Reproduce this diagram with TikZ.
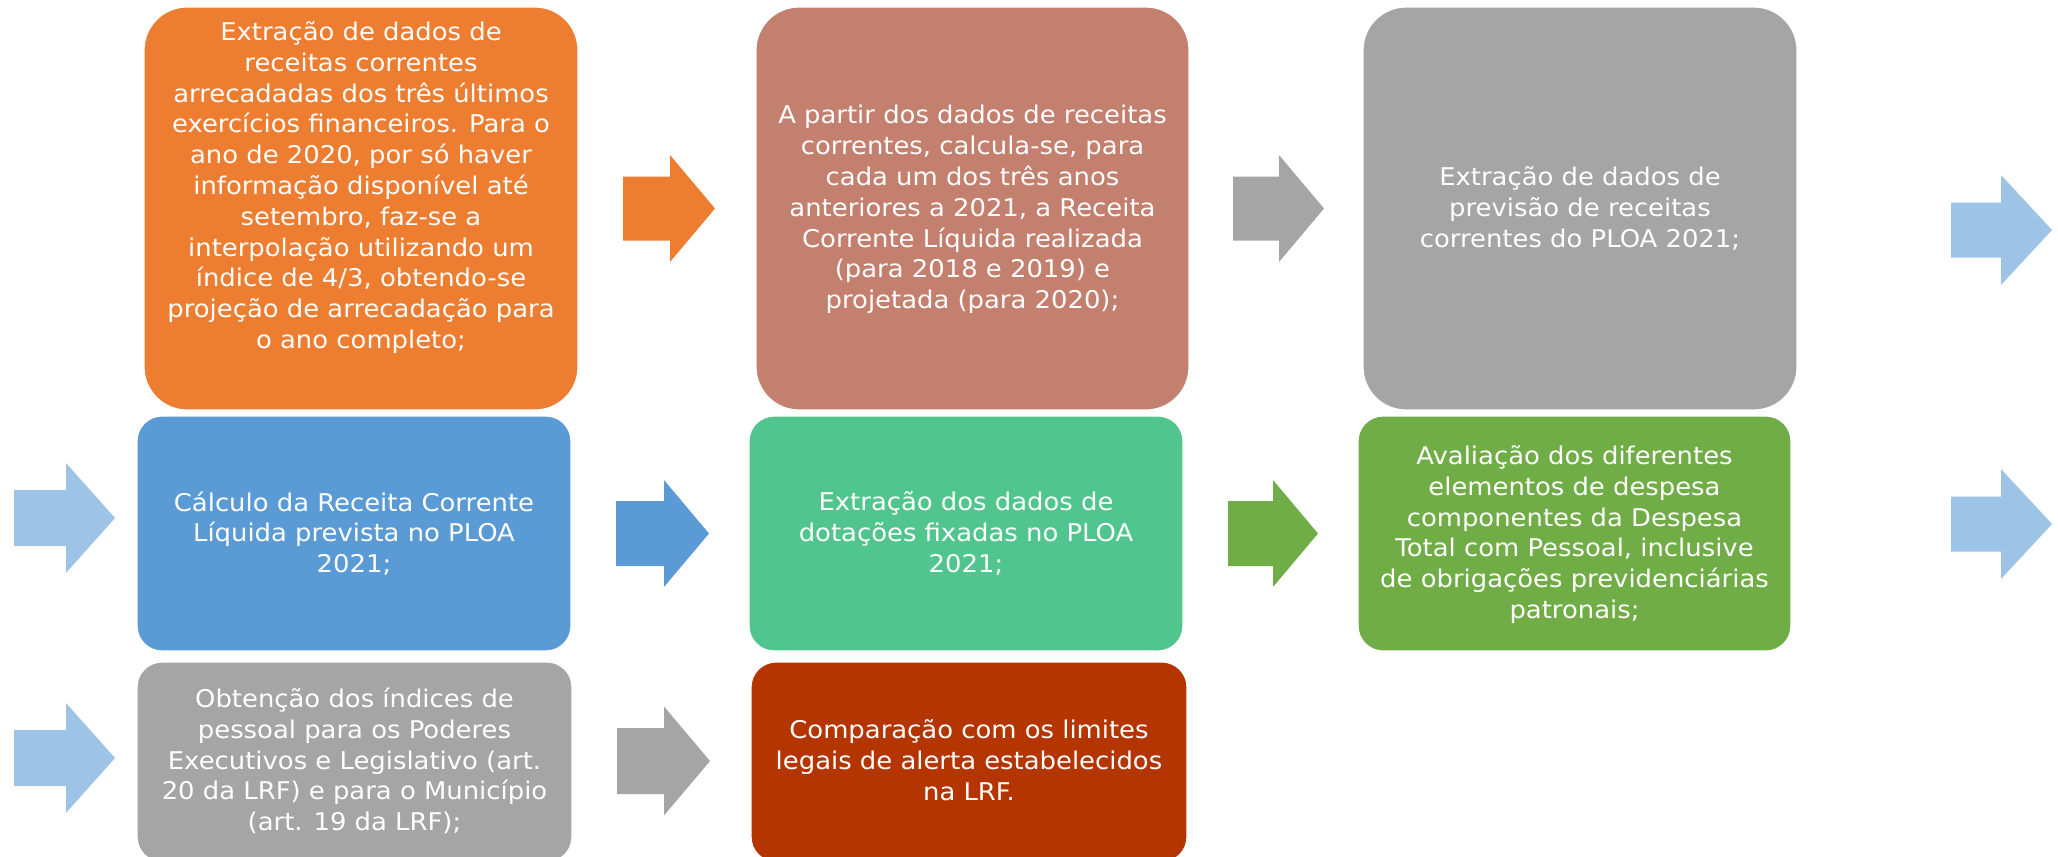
\documentclass[tikz,border=0pt]{standalone}
\usepackage{fontspec}
\setmainfont{DejaVu Sans}[FakeStretch=1.06]
\definecolor{corange}{HTML}{ED7D31}
\definecolor{crose}{HTML}{C4806F}
\definecolor{cgray}{HTML}{A5A5A5}
\definecolor{clblue}{HTML}{9DC3E6}
\definecolor{cblue}{HTML}{5B9BD5}
\definecolor{cteal}{HTML}{50C58E}
\definecolor{colive}{HTML}{70AD47}
\definecolor{cred}{HTML}{B43500}
\newcommand{\blockarr}[7]{% color, x0, xbase, xtip, ycenter, shaft half, head half
  \fill[#1] (#2,#5-#6) -- (#3,#5-#6) -- (#3,#5-#7) -- (#4,#5) -- (#3,#5+#7) -- (#3,#5+#6) -- (#2,#5+#6) -- cycle;}
\tikzset{
  stepbox/.style={draw=white, line width=0.6pt, inner sep=0pt},
  bigbox/.style={stepbox, rounded corners=21.5pt, minimum height=201.5pt},
  smallbox/.style={stepbox, rounded corners=12.5pt},
  txt/.style={text=white, align=center, inner sep=0pt, font=\fontsize{12.2}{15.4}\selectfont}
}
\begin{document}
\begin{tikzpicture}[x=0.5pt,y=-0.5pt]
\useasboundingbox (0,0) rectangle (2058,857);
\clip (0,0) rectangle (2058,857);
% row 1
\node[bigbox, fill=corange, minimum width=217pt] (b1) at (361,208.5) {};
\node[txt] (b1t) at (361,187.5) {Extração de dados de\\receitas correntes\\arrecadadas dos três últimos\\exercícios financeiros. Para o\\ano de 2020, por só haver\\informação disponível até\\setembro, faz-se a\\interpolação utilizando um\\índice de 4/3, obtendo-se\\projeção de arrecadação para\\o ano completo;};
\node[bigbox, fill=crose, minimum width=216.5pt] (b2) at (972.5,208.5) {};
\node[txt] (b2t) at (972.5,209.5) {A partir dos dados de receitas\\correntes, calcula-se, para\\cada um dos três anos\\anteriores a 2021, a Receita\\Corrente Líquida realizada\\(para 2018 e 2019) e\\projetada (para 2020);};
\node[bigbox, fill=cgray, minimum width=217pt] (b3) at (1580,208.5) {};
\node[txt] (b3t) at (1580,208.5) {Extração de dados de\\previsão de receitas\\correntes do PLOA 2021;};
% row 2
\node[smallbox, fill=cblue, minimum width=217pt, minimum height=117.5pt] (b4) at (354,533.5) {};
\node[txt] (b4t) at (354,533.5) {Cálculo da Receita Corrente\\Líquida prevista no PLOA\\2021;};
\node[smallbox, fill=cteal, minimum width=217pt, minimum height=117.5pt] (b5) at (966,533.5) {};
\node[txt] (b5t) at (966,533.5) {Extração dos dados de\\dotações fixadas no PLOA\\2021;};
\node[smallbox, fill=colive, minimum width=216.5pt, minimum height=117.5pt] (b6) at (1574.5,533.5) {};
\node[txt] (b6t) at (1574.5,534.5) {Avaliação dos diferentes\\elementos de despesa\\componentes da Despesa\\Total com Pessoal, inclusive\\de obrigações previdenciárias\\patronais;};
% row 3
\node[smallbox, fill=cgray, minimum width=217.5pt, minimum height=100pt] (b7) at (354.5,762) {};
\node[txt] (b7t) at (354.5,761) {Obtenção dos índices de\\pessoal para os Poderes\\Executivos e Legislativo (art.\\20 da LRF) e para o Município\\(art. 19 da LRF);};
\node[smallbox, fill=cred, minimum width=218pt, minimum height=100pt] (b8) at (969,762) {};
\node[txt] (b8t) at (969,760) {Comparação com os limites\\legais de alerta estabelecidos\\na LRF.};
% arrows
\blockarr{corange}{623}{670}{715}{208.5}{32}{53.5}
\blockarr{cgray}{1233}{1279}{1324}{208.5}{32}{53.5}
\blockarr{clblue}{1951}{2001}{2052}{230}{27.5}{55}
\blockarr{clblue}{14}{66}{115}{518}{28}{55}
\blockarr{cblue}{616}{664}{709}{533.5}{32.5}{53.5}
\blockarr{colive}{1228}{1273}{1318}{533.5}{32.5}{53.5}
\blockarr{clblue}{1951}{2001}{2052}{524}{27.5}{55}
\blockarr{clblue}{14}{66}{115}{758}{28}{55}
\blockarr{cgray}{617}{664}{710}{761}{33}{54.5}
\end{tikzpicture}
\end{document}
